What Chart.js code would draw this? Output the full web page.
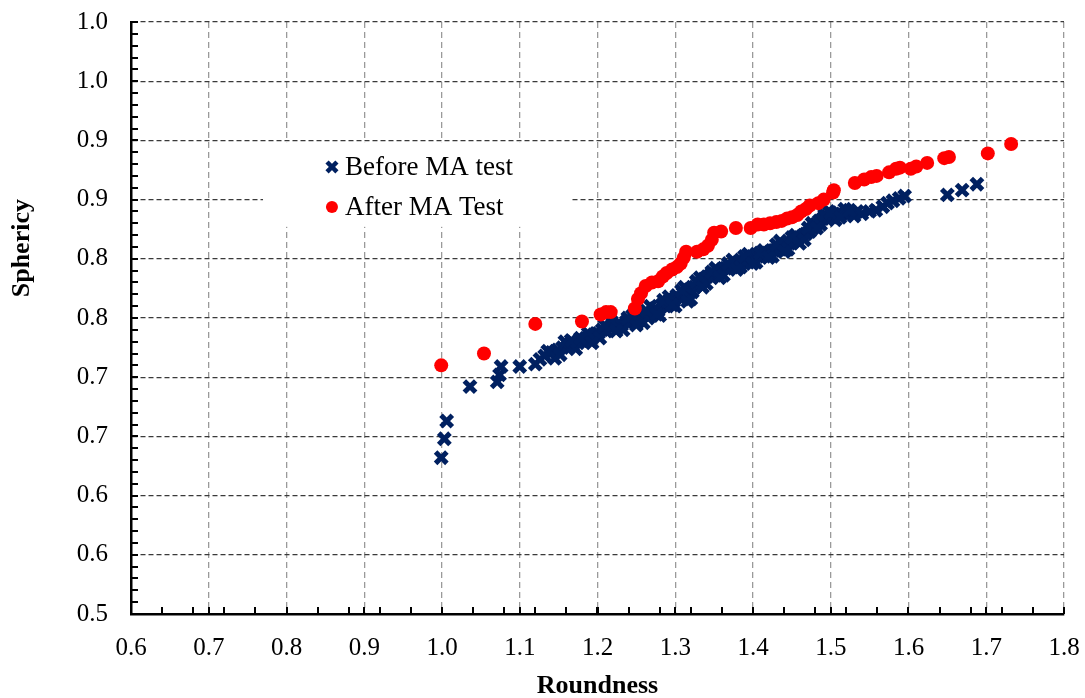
<!DOCTYPE html>
<html>
<head>
<meta charset="utf-8">
<title>Sphericity vs Roundness</title>
<script src="https://cdn.jsdelivr.net/npm/chart.js@4.4.1/dist/chart.umd.min.js"></script>
<style>
  html, body { margin: 0; padding: 0; background: #ffffff; }
  #wrap { width: 1085px; height: 698px; position: relative; }
</style>
</head>
<body>
<div id="wrap"><canvas id="chart"></canvas></div>
<script>
// Particle shape measurements: roundness (x) and sphericity (y)
const seriesNames = ['Before MA test', 'After MA Test'];

const beforeRoundness = [
  0.999, 1.003, 1.006, 1.036, 1.071, 1.074, 1.076, 1.100, 1.120, 1.126,
  1.132, 1.141, 1.149, 1.155, 1.162, 1.168, 1.175, 1.180, 1.185, 1.190,
  1.195, 1.201, 1.206, 1.211, 1.216, 1.221, 1.226, 1.231, 1.237, 1.242,
  1.247, 1.252, 1.256, 1.261, 1.265, 1.270, 1.274, 1.278, 1.283, 1.287,
  1.291, 1.294, 1.298, 1.302, 1.306, 1.310, 1.314, 1.318, 1.322, 1.325,
  1.329, 1.333, 1.337, 1.341, 1.345, 1.350, 1.355, 1.360, 1.365, 1.370,
  1.376, 1.381, 1.386, 1.391, 1.396, 1.401, 1.406, 1.411, 1.416, 1.422,
  1.427, 1.432, 1.437, 1.442, 1.447, 1.452, 1.457, 1.463, 1.468, 1.473,
  1.477, 1.481, 1.485, 1.490, 1.495, 1.502, 1.508, 1.514, 1.521, 1.527,
  1.534, 1.550, 1.558, 1.567, 1.573, 1.580, 1.588, 1.595, 1.650, 1.669,
  1.688,
  1.145, 1.158, 1.172, 1.188, 1.203, 1.218, 1.233, 1.245, 1.259, 1.268,
  1.280, 1.292, 1.300, 1.312, 1.320, 1.332, 1.340, 1.352, 1.362, 1.374,
  1.384, 1.394, 1.404, 1.414, 1.425, 1.435, 1.445, 1.455, 1.466, 1.476,
  1.487, 1.497, 1.506, 1.518, 1.530,
  1.136, 1.152, 1.166, 1.178, 1.193, 1.209, 1.224, 1.239, 1.250, 1.263,
  1.276, 1.285, 1.296, 1.308, 1.316, 1.327, 1.335, 1.347, 1.357, 1.368,
  1.379, 1.389, 1.399, 1.409, 1.420, 1.430, 1.440, 1.450, 1.460, 1.471,
  1.482, 1.492, 1.500, 1.512, 1.524, 1.540
];
const beforeSphericity = [
  0.632, 0.648, 0.663, 0.692, 0.696, 0.702, 0.709, 0.709, 0.711, 0.715,
  0.718, 0.721, 0.723, 0.725, 0.726, 0.727, 0.729, 0.731, 0.733, 0.731,
  0.736, 0.737, 0.740, 0.739, 0.742, 0.743, 0.745, 0.744, 0.747, 0.747,
  0.749, 0.747, 0.752, 0.753, 0.750, 0.755, 0.758, 0.756, 0.761, 0.760,
  0.764, 0.766, 0.764, 0.769, 0.767, 0.771, 0.769, 0.774, 0.772, 0.776,
  0.779, 0.780, 0.783, 0.785, 0.786, 0.787, 0.790, 0.791, 0.792, 0.793,
  0.795, 0.797, 0.797, 0.799, 0.800, 0.801, 0.802, 0.802, 0.804, 0.806,
  0.807, 0.809, 0.811, 0.812, 0.813, 0.815, 0.817, 0.819, 0.821, 0.823,
  0.826, 0.829, 0.832, 0.834, 0.836, 0.836, 0.838, 0.838, 0.839, 0.839,
  0.840, 0.840, 0.841, 0.844, 0.847, 0.849, 0.851, 0.853, 0.854, 0.858,
  0.863,
  0.716, 0.730, 0.724, 0.737, 0.733, 0.747, 0.740, 0.752, 0.746, 0.760,
  0.752, 0.768, 0.760, 0.776, 0.766, 0.784, 0.779, 0.792, 0.786, 0.799,
  0.793, 0.804, 0.797, 0.807, 0.802, 0.815, 0.808, 0.820, 0.816, 0.830,
  0.829, 0.840, 0.833, 0.842, 0.836,
  0.722, 0.719, 0.731, 0.733, 0.729, 0.744, 0.739, 0.750, 0.744, 0.756,
  0.753, 0.765, 0.761, 0.773, 0.764, 0.781, 0.776, 0.789, 0.784, 0.796,
  0.791, 0.802, 0.796, 0.805, 0.801, 0.812, 0.806, 0.818, 0.813, 0.826,
  0.826, 0.837, 0.839, 0.835, 0.841, 0.838
];

const afterRoundness = [
  0.999, 1.054, 1.120, 1.180, 1.204, 1.211, 1.217, 1.248, 1.252, 1.256,
  1.262, 1.270, 1.278, 1.284, 1.289, 1.296, 1.302, 1.307, 1.311, 1.314,
  1.328, 1.336, 1.342, 1.347, 1.350, 1.359, 1.378, 1.397, 1.406, 1.414,
  1.422, 1.430, 1.437, 1.444, 1.450, 1.457, 1.462, 1.468, 1.473, 1.484,
  1.491, 1.503, 1.504, 1.531, 1.543, 1.552, 1.559, 1.575, 1.584, 1.589,
  1.603, 1.610, 1.624, 1.646, 1.652, 1.702, 1.732
];
const afterSphericity = [
  0.710, 0.720, 0.745, 0.747, 0.753, 0.755, 0.755, 0.758, 0.766, 0.771,
  0.777, 0.780, 0.781, 0.785, 0.788, 0.791, 0.793, 0.796, 0.801, 0.806,
  0.806, 0.808, 0.811, 0.816, 0.822, 0.823, 0.826, 0.826, 0.829, 0.829,
  0.830, 0.831, 0.832, 0.834, 0.835, 0.837, 0.840, 0.842, 0.845, 0.847,
  0.850, 0.856, 0.858, 0.864, 0.867, 0.869, 0.870, 0.873, 0.876, 0.877,
  0.876, 0.878, 0.881, 0.885, 0.886, 0.889, 0.897
];

// Axis tick labels (one decimal place, as printed on the axes)
const xTickLabels = ['0.6', '0.7', '0.8', '0.9', '1.0', '1.1', '1.2', '1.3', '1.4', '1.5', '1.6', '1.7', '1.8'];
const yTickLabels = ['0.5', '0.6', '0.6', '0.7', '0.7', '0.8', '0.8', '0.9', '0.9', '1.0', '1.0'];

const xTitle = 'Roundness';
const yTitle = 'Sphericy';

const FONT = "'Times New Roman', 'Liberation Serif', 'DejaVu Serif', serif";
const NAVY = '#002060';
const RED = '#ff0000';

function toPoints(xs, ys) {
  return xs.map((x, i) => ({ x: x, y: ys[i] }));
}

// Short inward tick marks on the left and bottom axes
const innerTicks = {
  id: 'innerTicks',
  afterDatasetsDraw(chart) {
    const { ctx, chartArea: a, scales: { x, y } } = chart;
    ctx.save();
    ctx.strokeStyle = '#000';
    ctx.lineWidth = 2;
    ctx.beginPath();
    for (let i = 0; i <= 30; i++) {
      const px = Math.round(x.getPixelForValue(0.6 + i * 0.04));
      ctx.moveTo(px, a.bottom);
      ctx.lineTo(px, a.bottom - 7);
    }
    for (let i = 0; i <= 12; i++) {
      const px = Math.round(x.getPixelForValue(0.6 + i * 0.1));
      ctx.moveTo(px, a.bottom);
      ctx.lineTo(px, a.bottom - 7);
    }
    for (let i = 0; i <= 50; i++) {
      const py = Math.round(y.getPixelForValue(0.5 + i * 0.01));
      ctx.moveTo(a.left, py);
      ctx.lineTo(a.left + 7, py);
    }
    ctx.stroke();
    ctx.restore();
  }
};

// Legend placed inside the plot on a white panel
const insetLegend = {
  id: 'insetLegend',
  beforeDatasetsDraw(chart) {
    const { ctx, chartArea: a } = chart;
    const w = a.right - a.left, h = a.bottom - a.top;
    const bx0 = a.left + 0.1415 * w, bx1 = a.left + 0.4716 * w;
    const by0 = a.top + 0.203 * h, by1 = a.top + 0.346 * h;
    ctx.save();
    ctx.fillStyle = '#ffffff';
    ctx.fillRect(bx0, by0, bx1 - bx0, by1 - by0);
    const mx = a.left + 0.2154 * w;
    const tx = a.left + 0.2294 * w;
    const rows = [a.top + 0.2449 * h, a.top + 0.3125 * h];
    chart.data.datasets.forEach((ds) => {
      const r = rows[ds.legendRow];
      ctx.fillStyle = ds.pointBackgroundColor;
      ctx.strokeStyle = ds.pointBorderColor;
      ctx.lineWidth = ds.legendBorder;
      ctx.beginPath();
      if (ds.pointStyle === 'circle') {
        ctx.arc(mx, r, ds.legendRadius, 0, Math.PI * 2);
        ctx.fill();
      } else {
        const d = ds.legendRadius * Math.SQRT1_2;
        ctx.moveTo(mx - d, r - d); ctx.lineTo(mx + d, r + d);
        ctx.moveTo(mx + d, r - d); ctx.lineTo(mx - d, r + d);
        ctx.stroke();
      }
      ctx.fillStyle = '#000';
      ctx.font = '27px ' + FONT;
      ctx.textAlign = 'left';
      ctx.textBaseline = 'middle';
      ctx.fillText(ds.label, tx, r + 1);
    });
    ctx.restore();
  }
};

// Axis titles
const axisTitles = {
  id: 'axisTitles',
  afterDraw(chart) {
    const { ctx, chartArea: a } = chart;
    ctx.save();
    ctx.fillStyle = '#000';
    ctx.font = 'bold 26px ' + FONT;
    ctx.textAlign = 'center';
    ctx.textBaseline = 'middle';
    ctx.fillText(xTitle, (a.left + a.right) / 2, a.bottom + 72);
    ctx.translate(22, a.top + 0.382 * (a.bottom - a.top));
    ctx.rotate(-Math.PI / 2);
    ctx.fillText(yTitle, 0, 0);
    ctx.restore();
  }
};

new Chart(document.getElementById('chart'), {
  type: 'scatter',
  data: {
    datasets: [
      {
        label: seriesNames[0],
        data: toPoints(beforeRoundness, beforeSphericity),
        pointStyle: 'crossRot',
        pointRadius: 8,
        pointHoverRadius: 8,
        pointBorderWidth: 5,
        pointHoverBorderWidth: 5,
        pointBorderColor: NAVY,
        pointBackgroundColor: NAVY,
        borderColor: NAVY,
        backgroundColor: NAVY,
        legendRow: 0,
        legendRadius: 7,
        legendBorder: 4.5,
        order: 2
      },
      {
        label: seriesNames[1],
        data: toPoints(afterRoundness, afterSphericity),
        pointStyle: 'circle',
        pointRadius: 7,
        pointHoverRadius: 7,
        pointBorderWidth: 0,
        pointBorderColor: RED,
        pointBackgroundColor: RED,
        borderColor: RED,
        backgroundColor: RED,
        legendRow: 1,
        legendRadius: 6,
        legendBorder: 0,
        order: 1
      }
    ]
  },
  options: {
    responsive: true,
    maintainAspectRatio: false,
    animation: false,
    events: [],
    layout: { padding: { top: 22, right: 21, bottom: 0, left: 0 } },
    plugins: {
      legend: { display: false },
      tooltip: { enabled: false }
    },
    scales: {
      x: {
        type: 'linear',
        min: 0.6,
        max: 1.8,
        afterFit(scale) {
          scale.height = 84;
          scale.paddingLeft = 0;
          scale.paddingRight = 0;
        },
        afterBuildTicks(scale) {
          scale.ticks = xTickLabels.map((t, i) => ({ value: 0.6 + i * 0.1 }));
        },
        ticks: {
          autoSkip: false,
          maxRotation: 0,
          padding: 19,
          color: '#000',
          font: { family: FONT, size: 25 },
          callback: (v, i) => xTickLabels[i]
        },
        grid: {
          drawTicks: false,
          color: '#9a9a9a',
          lineWidth: 1.3
        },
        border: { display: true, color: '#000', width: 2.5, dash: [6, 4] },
        title: { display: false }
      },
      y: {
        type: 'linear',
        min: 0.5,
        max: 1.0,
        afterFit(scale) {
          scale.width = 131;
          scale.paddingTop = 0;
          scale.paddingBottom = 0;
        },
        afterBuildTicks(scale) {
          scale.ticks = yTickLabels.map((t, i) => ({ value: 0.5 + i * 0.05 }));
        },
        ticks: {
          autoSkip: false,
          padding: 23,
          color: '#000',
          font: { family: FONT, size: 25 },
          callback: (v, i) => yTickLabels[i]
        },
        grid: {
          drawTicks: false,
          color: '#3a3a3a',
          lineWidth: 1.3
        },
        border: { display: true, color: '#000', width: 2.5, dash: [5, 3] },
        title: { display: false }
      }
    }
  },
  plugins: [insetLegend, innerTicks, axisTitles]
});
</script>
</body>
</html>
